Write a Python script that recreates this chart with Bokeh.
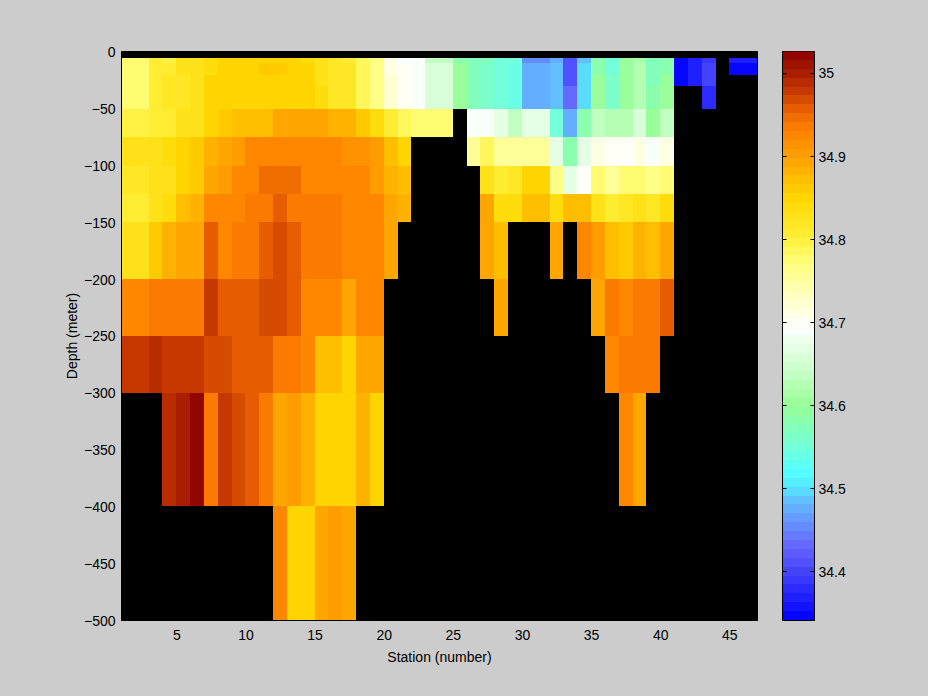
import numpy as np
from bokeh.plotting import figure
from bokeh.layouts import row
from bokeh.models import ColumnDataSource, LinearColorMapper, LinearAxis, FixedTicker, Range1d
from bokeh.embed import file_html
from bokeh.resources import INLINE

n = float("nan")
stations = list(range(1, 48))
depth_edges = [5, 10, 20, 30, 50, 75, 100, 125, 150, 200, 250, 300, 400, 500]
x_ticks = [5, 10, 15, 20, 25, 30, 35, 40, 45]
y_ticks = [-500, -450, -400, -350, -300, -250, -200, -150, -100, -50, 0]
cbar_ticks = [34.4, 34.5, 34.6, 34.7, 34.8, 34.9, 35.0]
cbar_low = 34.341
cbar_high = 35.0265

# Salinity by depth layer; one value per station interval (46 columns).
r0 = [34.775,34.775,34.805,34.80,34.825,34.825,34.84,34.848,34.848,34.855,34.855,34.848,34.85,34.84,34.83,34.815,34.81,34.79,34.76,34.715,34.69,34.69,34.64,34.64,34.585,34.575,34.57,34.545,34.545,34.455,34.455,34.475,34.41,34.485,34.585,34.555,34.60,34.615,34.57,34.585,34.345,34.37,34.385,n,34.365,34.365]
r1 = [34.775,34.775,34.805,34.805,34.825,34.825,34.84,34.848,34.848,34.855,34.858,34.858,34.848,34.848,34.83,34.815,34.815,34.79,34.76,34.715,34.70,34.69,34.66,34.66,34.60,34.57,34.565,34.55,34.54,34.47,34.47,34.485,34.41,34.497,34.585,34.555,34.60,34.63,34.57,34.585,34.345,34.37,34.395,n,34.345,34.345]
r2 = [34.775,34.775,34.805,34.815,34.82,34.825,34.848,34.848,34.855,34.855,34.855,34.855,34.848,34.848,34.83,34.822,34.815,34.79,34.76,34.72,34.70,34.69,34.66,34.66,34.60,34.57,34.565,34.555,34.54,34.47,34.47,34.485,34.41,34.497,34.60,34.56,34.60,34.63,34.57,34.60,34.345,34.37,34.395,n,n,n]
r3 = [34.775,34.775,34.805,34.815,34.82,34.825,34.848,34.848,34.855,34.855,34.855,34.855,34.855,34.848,34.84,34.822,34.815,34.79,34.76,34.72,34.70,34.69,34.66,34.66,34.60,34.57,34.565,34.555,34.54,34.47,34.47,34.485,34.43,34.497,34.60,34.56,34.60,34.63,34.585,34.60,n,n,34.38,n,n,n]
r4 = [34.80,34.80,34.81,34.81,34.825,34.83,34.85,34.86,34.875,34.875,34.875,34.888,34.888,34.888,34.888,34.88,34.88,34.862,34.835,34.805,34.785,34.77,34.77,34.77,n,34.69,34.69,34.665,34.64,34.665,34.665,34.555,34.48,34.58,34.635,34.625,34.625,34.655,34.605,34.64,n,n,n,n,n,n]
r5 = [34.825,34.825,34.83,34.84,34.85,34.86,34.88,34.895,34.905,34.92,34.92,34.93,34.93,34.92,34.92,34.92,34.91,34.91,34.90,34.867,34.85,n,n,n,n,34.755,34.785,34.755,34.755,34.75,34.75,34.665,34.585,34.665,34.715,34.70,34.70,34.715,34.69,34.715,n,n,n,n,n,n]
r6 = [34.82,34.82,34.825,34.825,34.85,34.86,34.895,34.905,34.92,34.93,34.942,34.942,34.942,34.93,34.93,34.93,34.93,34.92,34.905,34.88,34.873,n,n,n,n,n,34.83,34.805,34.82,34.85,34.85,34.76,34.665,34.705,34.775,34.75,34.775,34.775,34.765,34.78,n,n,n,n,n,n]
r7 = [34.81,34.81,34.83,34.84,34.87,34.88,34.93,34.92,34.93,34.94,34.94,34.955,34.94,34.94,34.94,34.94,34.93,34.92,34.92,34.895,34.885,n,n,n,n,n,34.895,34.84,34.84,34.875,34.875,34.84,34.868,34.868,34.83,34.81,34.82,34.83,34.815,34.84,n,n,n,n,n,n]
r8 = [34.83,34.83,34.862,34.885,34.895,34.895,34.955,34.93,34.94,34.94,34.955,34.967,34.955,34.94,34.94,34.94,34.93,34.93,34.92,34.895,n,n,n,n,n,n,34.895,34.873,n,n,n,34.895,n,34.92,34.905,34.875,34.862,34.885,34.875,34.895,n,n,n,n,n,n]
r9 = [34.93,34.93,34.94,34.94,34.94,34.94,34.976,34.955,34.955,34.955,34.967,34.967,34.955,34.93,34.92,34.92,34.895,34.92,34.92,n,n,n,n,n,n,n,n,34.895,n,n,n,n,n,n,34.895,34.94,34.93,34.94,34.94,34.955,n,n,n,n,n,n]
r10 = [34.976,34.976,34.988,34.976,34.976,34.976,34.967,34.967,34.955,34.955,34.955,34.94,34.94,34.92,34.875,34.875,34.855,34.895,34.895,n,n,n,n,n,n,n,n,n,n,n,n,n,n,n,n,34.93,34.94,34.94,34.94,n,n,n,n,n,n,n]
r11 = [n,n,n,34.99,35.0,35.02,34.94,34.976,34.967,34.955,34.94,34.89,34.905,34.885,34.85,34.85,34.85,34.885,34.85,n,n,n,n,n,n,n,n,n,n,n,n,n,n,n,n,n,34.92,34.895,n,n,n,n,n,n,n,n]
r12 = [n,n,n,n,n,n,n,n,n,n,n,34.93,34.85,34.85,34.89,34.905,34.89,n,n,n,n,n,n,n,n,n,n,n,n,n,n,n,n,n,n,n,n,n,n,n,n,n,n,n,n,n]
layers = [r0, r1, r2, r3, r4, r5, r6, r7, r8, r9, r10, r11, r12]

# Colour table: 64 flat levels (anchor value, r, g, b).
anchors = [
    (34.341, 0, 0, 255), (34.43, 102, 102, 255), (34.46, 100, 150, 255), (34.485, 100, 190, 255),
    (34.50, 85, 230, 255), (34.52, 85, 255, 255), (34.555, 120, 255, 210), (34.60, 150, 255, 150),
    (34.64, 200, 255, 200), (34.695, 255, 255, 255), (34.727, 255, 255, 200), (34.768, 255, 255, 128),
    (34.80, 255, 240, 60), (34.848, 255, 215, 0), (34.872, 255, 190, 0), (34.89, 255, 170, 0),
    (34.932, 255, 128, 0), (34.956, 230, 95, 0), (34.976, 200, 60, 0), (35.0, 170, 30, 0), (35.0265, 140, 0, 0),
]
a = np.array(anchors)
centres = cbar_low + (np.arange(64) + 0.5) * (cbar_high - cbar_low) / 64
palette = ["#%02x%02x%02x" % tuple(int(round(np.interp(c, a[:, 0], a[:, k]))) for k in (1, 2, 3)) for c in centres]
mapper = LinearColorMapper(palette=palette, low=cbar_low, high=cbar_high)

FRAME_W, FRAME_H = 636, 569
Y_TOP = 0.88                       # axis extends a pixel above depth 0
x_scale = FRAME_W / (stations[-1] - stations[0])
y_scale = FRAME_H / (500 + Y_TOP)
HALF = 0.5                         # Bokeh's drawing layer sits half a pixel off the grid


def snap_x(st):
    """Nudge a station edge onto a whole screen pixel so that cells join without seams."""
    return stations[0] + (round((st - stations[0]) * x_scale) - HALF) / x_scale


def snap_y(depth):
    return Y_TOP - (round((Y_TOP + depth) * y_scale) - HALF) / y_scale


left, right, top, bottom, val = [], [], [], [], []
for k, layer in enumerate(layers):
    for j, v in enumerate(layer):
        if v == v:
            left.append(snap_x(stations[j])); right.append(snap_x(stations[j + 1]))
            top.append(snap_y(depth_edges[k])); bottom.append(snap_y(depth_edges[k + 1])); val.append(v)
src = ColumnDataSource(dict(left=left, right=right, top=top, bottom=bottom, val=val))

GREY = "#cccccc"
FONT = "Liberation Sans"
FS = "14px"

p = figure(width=768, height=680, output_backend="svg", toolbar_location=None,
           x_range=Range1d(stations[0], stations[-1]), y_range=Range1d(-500, Y_TOP),
           min_border_left=121, min_border_right=11, min_border_top=51, min_border_bottom=60,
           background_fill_color="black", border_fill_color=GREY,
           x_axis_label="Station (number)", y_axis_label="Depth (meter)")
p.quad(left="left", right="right", top="top", bottom="bottom", source=src,
       fill_color={"field": "val", "transform": mapper}, line_color=None)
p.grid.visible = False
p.outline_line_color = "black"
p.xaxis.ticker = FixedTicker(ticks=x_ticks)
p.yaxis.ticker = FixedTicker(ticks=y_ticks)
for ax in (p.xaxis[0], p.yaxis[0]):
    ax.major_tick_in = 0
    ax.major_tick_out = 0
    ax.minor_tick_in = 0
    ax.minor_tick_out = 0
    ax.axis_line_color = "black"
    ax.major_label_text_font = FONT
    ax.major_label_text_font_size = FS
    ax.major_label_text_color = "black"
    ax.axis_label_text_font = FONT
    ax.axis_label_text_font_size = FS
    ax.axis_label_text_font_style = "normal"
    ax.axis_label_text_color = "black"
p.xaxis.major_label_standoff = 9
p.yaxis.major_label_standoff = 6
p.xaxis.axis_label_standoff = 6
p.yaxis.axis_label_standoff = 1

edges = np.linspace(cbar_low, cbar_high, 65)
cb_scale = FRAME_H / (cbar_high - cbar_low)
snapped = cbar_high - (np.round((cbar_high - edges) * cb_scale) - HALF) / cb_scale
cb_src = ColumnDataSource(dict(bottom=snapped[:-1], top=snapped[1:], color=palette))
c = figure(width=144, height=680, output_backend="svg", toolbar_location=None,
           x_range=Range1d(0, 1), y_range=Range1d(cbar_low, cbar_high),
           min_border_left=14, min_border_right=98, min_border_top=51, min_border_bottom=60,
           border_fill_color=GREY, y_axis_location="right", x_axis_location=None)
c.quad(left=0, right=1, bottom="bottom", top="top", fill_color="color", line_color=None, source=cb_src)
c.grid.visible = False
c.outline_line_color = "black"
ry = c.yaxis[0]
ry.ticker = FixedTicker(ticks=cbar_ticks)
ry.major_label_overrides = {34.4: "34.4", 34.5: "34.5", 34.6: "34.6", 34.7: "34.7", 34.8: "34.8", 34.9: "34.9", 35.0: "35"}
ry.major_tick_in = 4
ry.major_tick_out = 0
ry.minor_tick_in = 0
ry.minor_tick_out = 0
ry.major_tick_line_color = "black"
ry.axis_line_color = "black"
ry.major_label_text_font = FONT
ry.major_label_text_font_size = FS
ry.major_label_text_color = "black"
ry.major_label_standoff = 4
ly = LinearAxis(ticker=FixedTicker(ticks=cbar_ticks), major_tick_in=4, major_tick_out=0,
                minor_tick_in=0, minor_tick_out=0, major_tick_line_color="black",
                axis_line_color="black", major_label_text_font_size="0px", major_label_text_color=None)
c.add_layout(ly, "left")

page = row(p, c, spacing=0, styles={"background-color": GREY})
html = file_html(page, INLINE).replace("<head>", "<head><style>html,body{background:#cccccc}</style>", 1)
open("out.html", "w").write(html)
